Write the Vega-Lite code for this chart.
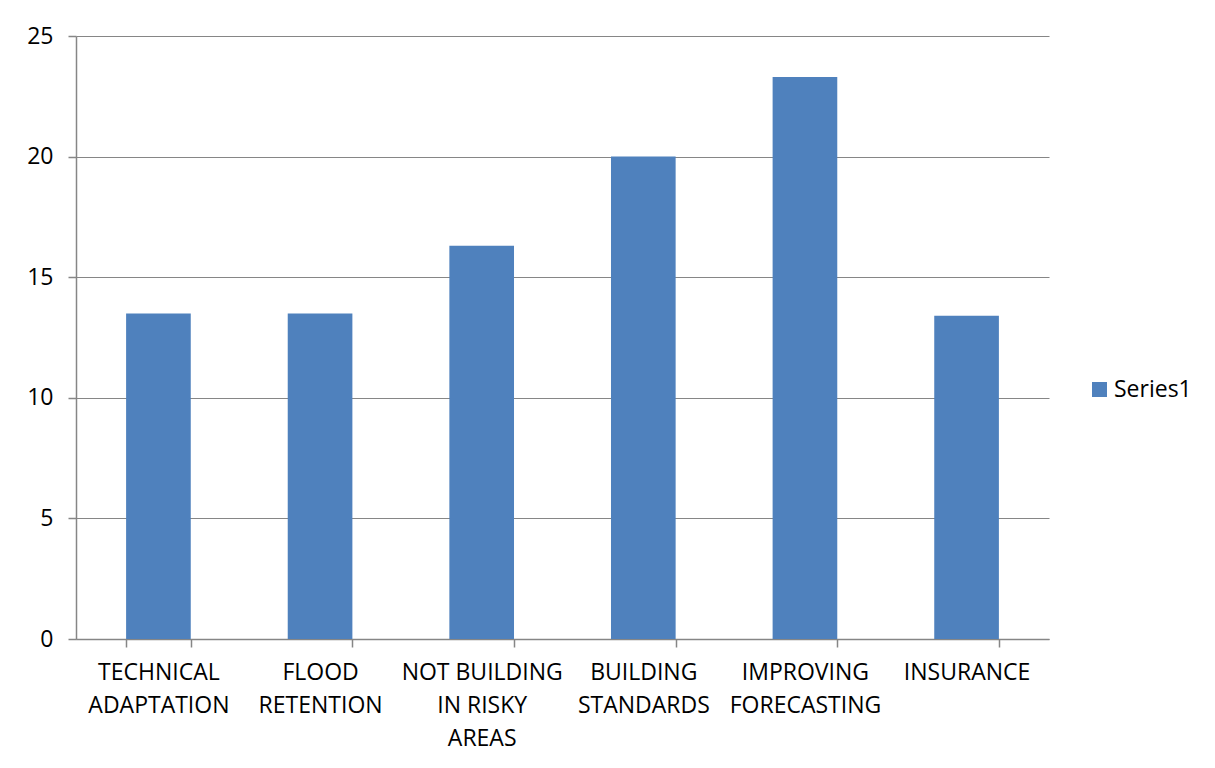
{
  "$schema": "https://vega.github.io/schema/vega-lite/v6.json",
  "width": 973,
  "height": 603,
  "autosize": "none",
  "padding": {"left": 76, "top": 36, "right": 166, "bottom": 129},
  "background": "white",
  "data": {
    "values": [
      {"measure": "TECHNICAL ADAPTATION", "value": 13.5, "series": "Series1"},
      {"measure": "FLOOD RETENTION", "value": 13.5, "series": "Series1"},
      {"measure": "NOT BUILDING IN RISKY AREAS", "value": 16.3, "series": "Series1"},
      {"measure": "BUILDING STANDARDS", "value": 20.0, "series": "Series1"},
      {"measure": "IMPROVING FORECASTING", "value": 23.3, "series": "Series1"},
      {"measure": "INSURANCE", "value": 13.4, "series": "Series1"}
    ]
  },
  "mark": {"type": "bar", "color": "#4F81BD"},
  "encoding": {
    "x": {
      "field": "measure",
      "type": "nominal",
      "sort": null,
      "title": null,
      "scale": {"paddingInner": 0.6, "paddingOuter": 0.31},
      "axis": {
        "labelAngle": 0,
        "labelExpr": "!isValid(datum.value) ? '' : datum.value == 'NOT BUILDING IN RISKY AREAS' ? ['NOT BUILDING', 'IN RISKY', 'AREAS'] : split(datum.value, ' ')",
        "labelLineHeight": 33,
        "labelPadding": 14,
        "tickBand": "extent",
        "tickSize": 8,
        "labelBaseline": "top"
      }
    },
    "y": {
      "field": "value",
      "type": "quantitative",
      "title": null,
      "scale": {"domain": [0, 25], "nice": false},
      "axis": {
        "values": [0, 5, 10, 15, 20, 25],
        "tickSize": 8,
        "labelPadding": 15,
        "grid": true,
        "domain": true
      }
    },
    "color": {
      "field": "series",
      "type": "nominal",
      "title": null,
      "scale": {"range": ["#4F81BD"]},
      "legend": {
        "orient": "none",
        "legendX": 1012,
        "legendY": 342,
        "symbolType": "square",
        "symbolSize": 225,
        "symbolStrokeWidth": 0,
        "labelFontSize": 23,
        "labelFont": "Open Sans",
        "labelColor": "black",
        "labelOffset": 3
      }
    }
  },
  "config": {
    "view": {"stroke": null},
    "axis": {
      "labelFont": "Open Sans",
      "labelFontSize": 23,
      "labelColor": "black",
      "domainColor": "#868686",
      "tickColor": "#868686",
      "gridColor": "#868686",
      "domainWidth": 1.5,
      "tickWidth": 1.5,
      "gridWidth": 1
    }
  }
}
